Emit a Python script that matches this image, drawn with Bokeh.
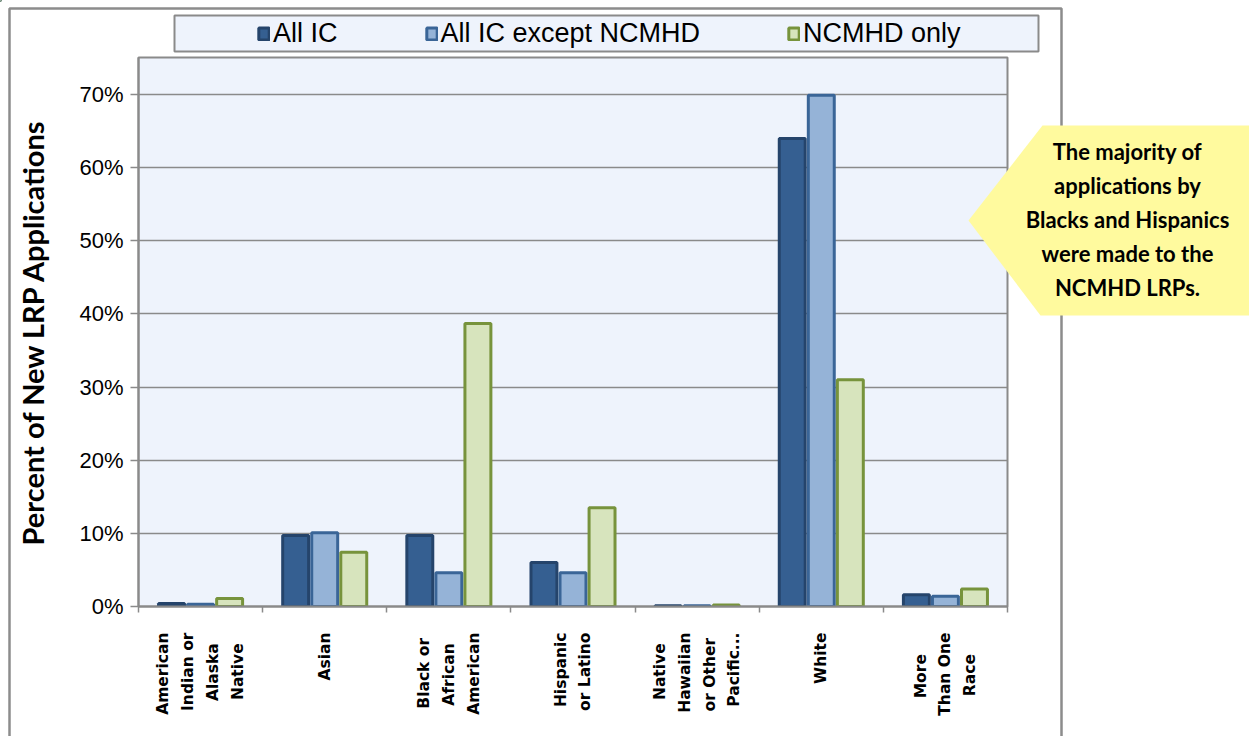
import math
from bokeh.plotting import figure
from bokeh.models import (ColumnDataSource, Range1d, FixedTicker, NumeralTickFormatter,
                          Legend, LegendItem, GridBox, Column)
from bokeh.core.properties import value
from bokeh.transform import dodge
from bokeh.embed import file_html
from bokeh.resources import INLINE

# ---------------- data ----------------
categories = ["American\nIndian or\nAlaska\nNative", "Asian", "Black or\nAfrican\nAmerican",
              "Hispanic\nor Latino", "Native\nHawaiian\nor Other\nPacific...", "White",
              "More\nThan One\nRace"]
all_ic = [0.004, 0.097, 0.097, 0.060, 0.001, 0.640, 0.016]
all_ic_except = [0.003, 0.101, 0.046, 0.046, 0.001, 0.699, 0.014]
ncmhd_only = [0.011, 0.074, 0.387, 0.135, 0.002, 0.310, 0.024]
series_names = ["All IC", "All IC except NCMHD", "NCMHD only"]
y_ticks = [0.0, 0.1, 0.2, 0.3, 0.4, 0.5, 0.6, 0.7]
callout_lines = ["The majority of", "applications by", "Blacks and Hispanics",
                 "were made to the", "NCMHD LRPs."]

# ---------------- layout constants (pixels) ----------------
W, H = 1249, 736
FL, FR, FT, FB = 138, 1007, 57, 606   # plot-area edges
NCAT = len(categories)
YMAX = 0.7 * (FB - FT) / 512.0

fills = ["#355F91", "#95B3D7", "#D7E4BD"]
lines = ["#25446B", "#3A6597", "#77933C"]

# trailing no-break spaces to centre the stacked lines of the rotated tick labels
line_pad = {"Alaska": 2, "Native": 2, "Black or": 1, "African": 2, "or Other": 1,
            "More": 4, "Race": 4}


def centred(label):
    return "\n".join(ln + "\u00a0" * line_pad.get(ln, 0) for ln in label.split("\n"))


src = ColumnDataSource(dict(x=[i + 0.5 for i in range(NCAT)],
                            a=all_ic, b=all_ic_except, c=ncmhd_only))

p = figure(width=W, height=H, output_backend="svg", toolbar_location=None,
           x_range=Range1d(0, NCAT), y_range=Range1d(0, YMAX),
           min_border_left=FL, min_border_right=W - FR, min_border_top=FT,
           min_border_bottom=H - FB)
p.background_fill_color = "#EEF3FC"
p.border_fill_color = "white"
p.outline_line_color = "#8A8A8A"
p.outline_line_width = 2

bw = 0.209
off = 0.234
for col, o, fc, lc in zip(["a", "b", "c"], [-off, 0.0, off], fills, lines):
    p.vbar(x=dodge("x", o, range=p.x_range), top=col, width=bw, source=src,
           fill_color=fc, line_color=lc, line_width=3)

# axes
xa = p.xaxis[0]
xa.ticker = FixedTicker(ticks=[i + 0.5 for i in range(NCAT)], minor_ticks=list(range(NCAT + 1)))
xa.major_label_overrides = {i + 0.5: centred(c) for i, c in enumerate(categories)}
xa.major_tick_line_color = None
xa.major_tick_out = 0
xa.major_tick_in = 0
xa.minor_tick_out = 6
xa.minor_tick_in = 0
xa.minor_tick_line_color = "#8A8A8A"
xa.minor_tick_line_width = 1.5
xa.axis_line_color = "#8A8A8A"
xa.axis_line_width = 2
xa.major_label_orientation = math.pi / 2
xa.major_label_standoff = 20
xa.major_label_text_font = "DejaVu Sans"
xa.major_label_text_font_style = "bold"
xa.major_label_text_font_size = "15.5px"
xa.major_label_text_line_height = 1.38
xa.major_label_text_color = "black"

ya = p.yaxis[0]
ya.ticker = FixedTicker(ticks=y_ticks)
ya.formatter = NumeralTickFormatter(format="0%")
ya.minor_tick_line_color = None
ya.major_tick_out = 8
ya.major_tick_in = 0
ya.major_tick_line_color = "#8A8A8A"
ya.major_tick_line_width = 1.5
ya.axis_line_color = "#8A8A8A"
ya.axis_line_width = 2
ya.major_label_text_font = "Liberation Sans"
ya.major_label_text_font_size = "22px"
ya.major_label_text_color = "black"
ya.major_label_standoff = 7
ya.axis_label = "Percent of New LRP Applications"
ya.axis_label_text_font = "Lato"
ya.axis_label_text_font_style = "bold"
ya.axis_label_text_font_size = "29px"
ya.axis_label_text_color = "black"
ya.axis_label_standoff = 26

p.xgrid.grid_line_color = None
p.ygrid.ticker = FixedTicker(ticks=y_ticks[1:])
p.ygrid.grid_line_color = "#8A8A8A"
p.ygrid.grid_line_width = 1.5

# ---------------- overlay: chart frame, legend, callout ----------------
ov = figure(width=W, height=H, output_backend="svg", toolbar_location=None,
            x_range=Range1d(0, W), y_range=Range1d(H, 0),
            x_axis_type=None, y_axis_type=None,
            min_border=0, min_border_left=0, min_border_right=0,
            min_border_top=0, min_border_bottom=0)
ov.background_fill_color = None
ov.border_fill_color = None
ov.outline_line_color = None
ov.xgrid.visible = False
ov.ygrid.visible = False

# outer chart frame
ov.quad(left=[9], right=[1061], top=[8], bottom=[760], fill_color=None,
        line_color="#8C8C8C", line_width=2.5)
# legend box
ov.quad(left=[174], right=[1038], top=[15], bottom=[51], fill_color="#EEF3FC",
        line_color="#8A8A8A", line_width=2)
# off-canvas proxies that carry the bar styles for the legend swatches
leg_r = []
for fc, lc in zip(fills, lines):
    leg_r.append(ov.vbar(x=[-100], top=[-100], bottom=[-90], width=5,
                         fill_color=fc, line_color=lc, line_width=3))
legend = Legend(items=[LegendItem(label=n, renderers=[r]) for n, r in zip(series_names, leg_r)],
                orientation="horizontal", location=(257, H - 49),
                padding=0, margin=0, spacing=87, label_standoff=3,
                glyph_width=13, glyph_height=15,
                background_fill_alpha=0, border_line_color=None,
                label_text_font="Liberation Sans", label_text_font_size="27px",
                label_text_color="black")
ov.add_layout(legend)

# callout
ov.patch(x=[968, 1042, 1260, 1260, 1040], y=[220, 125, 125, 315, 315],
         fill_color="#FFFA9E", line_color=None)
ov.text(x=[1127] * len(callout_lines), y=[151 + 34 * i for i in range(len(callout_lines))],
        text=callout_lines, text_align="center", text_baseline="middle",
        text_font=value("Lato"), text_font_style="bold", text_font_size="22px",
        text_color="black")

grid = GridBox(children=[(Column(children=[p]), 0, 0), (Column(children=[ov]), 0, 0)])
open("out.html", "w").write(file_html(grid, INLINE))
